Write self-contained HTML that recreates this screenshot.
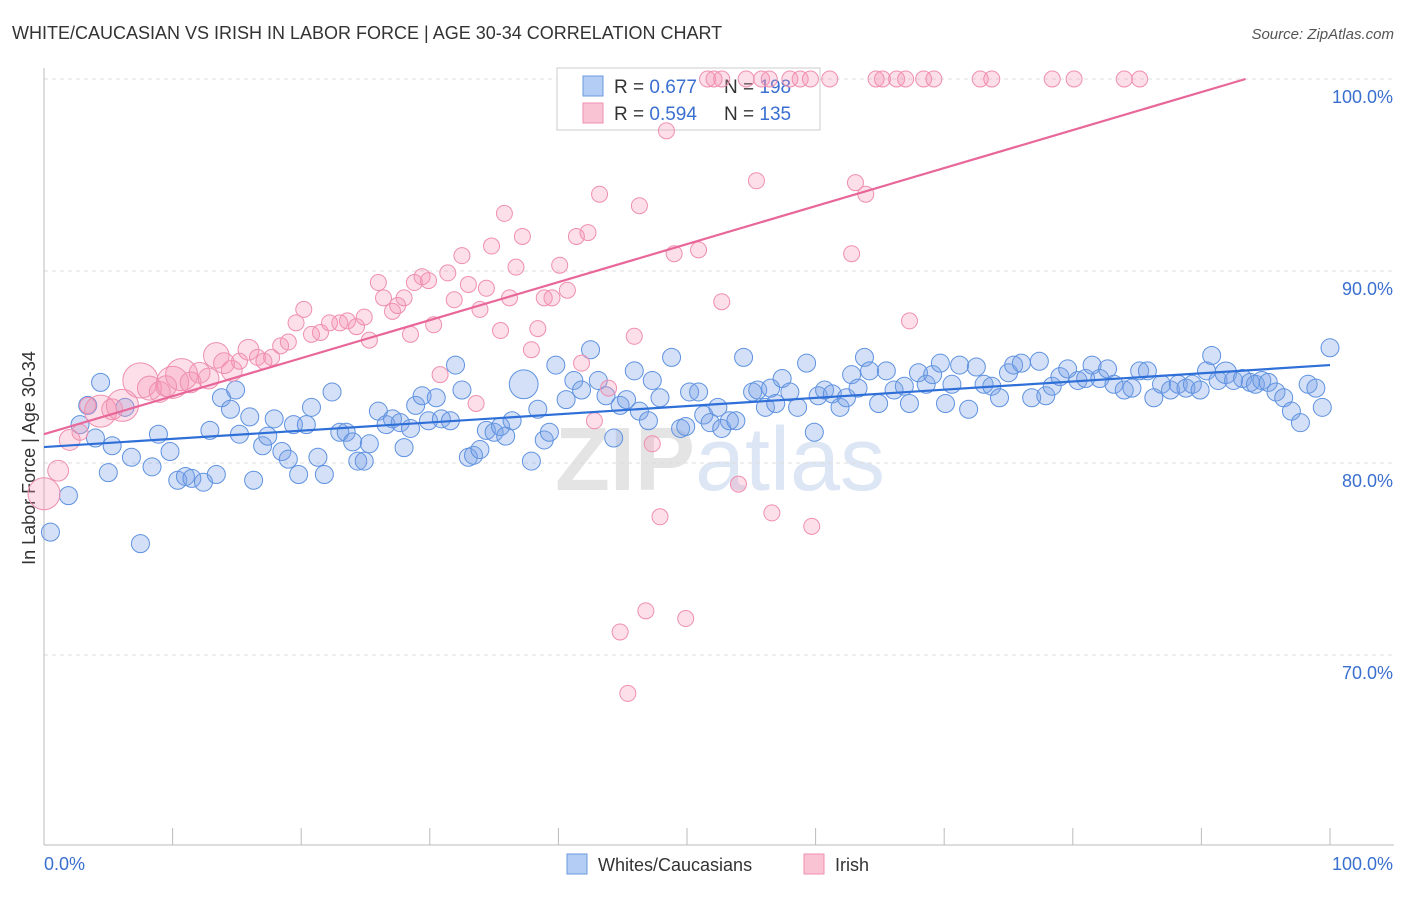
<!DOCTYPE html>
<html><head><meta charset="utf-8"><style>
body{margin:0;background:#fff;font-family:"Liberation Sans",sans-serif;}
svg text{font-family:"Liberation Sans",sans-serif;}
</style></head><body>
<svg id="chart" width="1406" height="892">
<text x="12" y="39" font-size="18" fill="#333">WHITE/CAUCASIAN VS IRISH IN LABOR FORCE | AGE 30-34 CORRELATION CHART</text>
<text x="1394" y="39" font-size="15" fill="#555" font-style="italic" text-anchor="end">Source: ZipAtlas.com</text>
<text x="35" y="458" font-size="18" fill="#333" text-anchor="middle" transform="rotate(-90 35 458)">In Labor Force | Age 30-34</text>
<text x="720" y="490" font-size="90" fill="#e4e4e4" text-anchor="middle" font-weight="bold" font-family="Liberation Serif">ZIP<tspan fill="#dce6f4" font-family="Liberation Sans" font-weight="normal">atlas</tspan></text>
<g id="grid"></g>
<g>
<rect x="557" y="68" width="263" height="62" fill="#fff" stroke="#ccc"/>
<rect x="583" y="76" width="20" height="20" fill="#b3cdf4" stroke="#6a9ae0"/>
<rect x="583" y="103" width="20" height="20" fill="#f9c3d4" stroke="#ef8fb0"/>
<text x="614" y="93" font-size="19" fill="#333">R = <tspan fill="#3a6fd0">0.677</tspan></text>
<text x="724" y="93" font-size="19" fill="#333">N = <tspan fill="#3a6fd0">198</tspan></text>
<text x="614" y="120" font-size="19" fill="#333">R = <tspan fill="#3a6fd0">0.594</tspan></text>
<text x="724" y="120" font-size="19" fill="#333">N = <tspan fill="#3a6fd0">135</tspan></text>
</g>
<g id="pts"></g><g id="trend"></g>
<g>
<rect x="567" y="854" width="20" height="20" fill="#b3cdf4" stroke="#6a9ae0"/>
<text x="598" y="871" font-size="18" fill="#333">Whites/Caucasians</text>
<rect x="804" y="854" width="20" height="20" fill="#f9c3d4" stroke="#ef8fb0"/>
<text x="835" y="871" font-size="18" fill="#333">Irish</text>
</g>
</svg>
<script>
const xTicks=[0,10,20,30,40,50,60,70,80,90,100];
const yTicks=[70,80,90,100];
const blueX=[0.5,1.9,4.4,2.8,3.4,4.0,5.0,5.3,6.3,7.5,6.8,8.4,8.9,9.8,10.4,11.0,11.5,12.4,12.9,13.4,13.8,14.5,14.9,15.2,16.0,16.3,17.0,17.4,17.9,18.5,19.0,19.8,19.4,20.4,20.8,21.3,21.8,22.4,23.0,23.5,24.0,24.4,24.9,25.3,26.0,26.6,27.1,27.7,28.0,28.5,28.9,29.4,29.9,30.5,30.9,31.6,32.0,32.5,33.0,33.4,33.9,34.4,35.0,35.5,35.9,36.4,37.3,37.9,38.4,38.9,39.3,39.8,40.6,41.2,41.8,42.5,43.1,43.7,44.3,44.8,45.3,45.9,46.3,47.0,47.3,47.9,48.8,49.5,49.9,50.2,50.9,51.3,51.8,52.4,52.7,53.3,53.8,54.4,55.1,55.5,56.1,56.5,56.9,57.4,58.0,58.6,59.3,59.9,60.2,60.7,61.3,61.9,62.4,62.8,63.3,63.8,64.2,64.9,65.5,66.1,66.9,67.3,68.0,68.6,69.1,69.7,70.1,70.6,71.2,71.9,72.5,73.1,73.7,74.3,75.0,75.4,76.0,76.8,77.4,77.9,78.4,79.0,79.6,80.4,81.0,81.5,82.1,82.7,83.2,84.0,84.6,85.2,85.8,86.3,86.9,87.6,88.2,88.8,89.3,89.9,90.4,90.8,91.3,91.9,92.5,93.2,93.8,94.2,94.7,95.2,95.8,96.4,97.0,97.7,98.3,98.9,99.4,100];
const blueY=[76.4,78.3,84.2,82.0,83.0,81.3,79.5,80.9,82.9,75.8,80.3,79.8,81.5,80.6,79.1,79.3,79.2,79.0,81.7,79.4,83.4,82.8,83.8,81.5,82.4,79.1,80.9,81.4,82.3,80.6,80.2,79.4,82.0,82.0,82.9,80.3,79.4,83.7,81.6,81.6,81.1,80.1,80.1,81.0,82.7,82.0,82.3,82.1,80.8,81.8,83.0,83.5,82.2,83.4,82.3,82.2,85.1,83.8,80.3,80.4,80.7,81.7,81.6,81.9,81.4,82.2,84.1,80.1,82.8,81.2,81.6,85.1,83.3,84.3,83.8,85.9,84.3,83.5,81.3,83.0,83.3,84.8,82.7,82.2,84.3,83.4,85.5,81.8,81.9,83.7,83.7,82.5,82.1,82.9,81.8,82.2,82.2,85.5,83.7,83.8,82.9,83.9,83.1,84.4,83.7,82.9,85.2,81.6,83.5,83.8,83.6,82.9,83.4,84.6,83.9,85.5,84.8,83.1,84.8,83.8,84.0,83.1,84.7,84.1,84.6,85.2,83.1,84.1,85.1,82.8,85.0,84.1,84.0,83.4,84.7,85.1,85.2,83.4,85.3,83.5,84.0,84.5,84.9,84.3,84.4,85.1,84.4,84.9,84.1,83.8,83.9,84.8,84.8,83.4,84.1,83.8,84.1,83.9,84.1,83.8,84.8,85.6,84.3,84.7,84.3,84.4,84.2,84.1,84.3,84.2,83.7,83.4,82.7,82.1,84.1,83.9,82.9,86.0];
const blueW=[1,1,1,1,1,1,1,1,1,1,1,1,1,1,1,1,1,1,1,1,1,1,1,1,1,1,1,1,1,1,1,1,1,1,1,1,1,1,1,1,1,1,1,1,1,1,1,1,1,1,1,1,1,1,1,1,1,1,1,1,1,1,1,1,1,1,1.6,1,1,1,1,1,1,1,1,1,1,1,1,1,1,1,1,1,1,1,1,1,1,1,1,1,1,1,1,1,1,1,1,1,1,1,1,1,1,1,1,1,1,1,1,1,1,1,1,1,1,1,1,1,1,1,1,1,1,1,1,1,1,1,1,1,1,1,1,1,1,1,1,1,1,1,1,1,1,1,1,1,1,1,1,1,1,1,1,1,1,1,1,1,1,1,1,1.2,1,1,1,1,1,1,1,1,1,1,1,1,1,1,1,1];
const pinkX=[0,1.1,2.0,2.8,3.4,4.4,5.3,6.1,7.5,8.2,9.0,9.5,10.0,10.7,11.4,12.1,12.8,13.4,14.0,14.6,15.2,15.9,16.6,17.1,17.7,18.4,19.0,19.6,20.2,20.8,21.5,22.2,23.0,23.6,24.3,24.9,25.3,26.0,26.4,27.1,27.5,28.0,28.5,28.8,29.4,29.9,30.3,30.8,31.4,31.9,32.5,33.0,33.6,33.9,34.4,34.8,35.5,35.8,36.2,36.7,37.2,37.9,38.4,38.9,39.5,40.1,40.7,41.4,41.8,42.3,42.8,43.2,43.9,44.8,45.4,45.9,46.3,46.8,47.3,47.9,48.4,49.0,49.9,50.9,51.6,52.7,54.0,55.4,56.6,58.0,59.7,61.1,62.8,63.1,63.9,64.7,65.2,66.3,67.0,67.3,68.4,69.2,72.8,73.7,78.4,80.1,84.0,85.2,52.1,52.7,54.6,55.8,56.4,58.8,59.6];
const pinkY=[78.4,79.6,81.2,81.6,83.0,82.7,82.8,83.0,84.3,83.9,83.7,84.0,84.2,84.6,84.2,84.7,84.4,85.6,85.2,84.8,85.3,85.9,85.5,85.3,85.5,86.1,86.3,87.3,88.0,86.7,86.8,87.3,87.3,87.4,87.1,87.6,86.4,89.4,88.6,87.9,88.2,88.6,86.7,89.4,89.7,89.5,87.2,84.6,89.9,88.5,90.8,89.3,83.1,88.0,89.1,91.3,86.9,93.0,88.6,90.2,91.8,85.9,87.0,88.6,88.6,90.3,89.0,91.8,85.2,92.0,82.2,94.0,83.9,71.2,68.0,86.6,93.4,72.3,81.0,77.2,97.3,90.9,71.9,91.1,100,88.4,78.9,94.7,77.4,100,76.7,100,90.9,94.6,94.0,100,100,100,100,87.4,100,100,100,100,100,100,100,100,100,100,100,100,100,100,100];
const pinkW=[2,1.3,1.3,1,1,2,1.3,2,2.2,1.5,1.3,1.3,2,2,1.3,1.3,1.3,1.6,1.3,1.3,1,1.3,1,1,1,1,1,1,1,1,1,1,1,1,1,1,1,1,1,1,1,1,1,1,1,1,1,1,1,1,1,1,1,1,1,1,1,1,1,1,1,1,1,1,1,1,1,1,1,1,1,1,1,1,1,1,1,1,1,1,1,1,1,1,1,1,1,1,1,1,1,1,1,1,1,1,1,1,1,1,1,1,1,1,1,1,1,1,1,1,1,1,1,1,1];
const blueTrend=[80.83,85.1];
const pinkTrend=[81.5,101.3];
const X0=44,X1=1330,Y100=79,PPU=19.2;
const sx=v=>X0+(X1-X0)*v/100;
const sy=v=>Y100+(100-v)*PPU;
const NS="http://www.w3.org/2000/svg";
function mk(t,a,p){const e=document.createElementNS(NS,t);for(const k in a)e.setAttribute(k,a[k]);p.appendChild(e);return e;}
const grid=document.getElementById('grid');
yTicks.forEach(t=>{
 const l=mk('line',{x1:44,x2:1394,y1:sy(t),y2:sy(t),stroke:'#ddd','stroke-dasharray':'4,4'},grid);
 
 
 const tx=mk('text',{x:1393,y:sy(t)+24,'font-size':18,fill:'#3a6fd0','text-anchor':'end'},grid);
 tx.textContent=t.toFixed(1)+'%';
 
 
});
const ax=mk('line',{x1:44,x2:1394,y1:845,y2:845,stroke:'#bbb'},grid);


const ay=mk('line',{x1:44,x2:44,y1:68,y2:845,stroke:'#bbb'},grid);


xTicks.forEach(t=>{
 const l=mk('line',{x1:sx(t),x2:sx(t),y1:845,y2:828,stroke:'#bbb'},grid);
 
 
});
[[0,'start',44],[100,'end',1393]].forEach(([v,a,x])=>{
 const tx=mk('text',{x:x,y:870,'font-size':18,fill:'#3a6fd0','text-anchor':a},grid);
 tx.textContent=v.toFixed(1)+'%';
 
 
});
const pts=document.getElementById('pts');
blueX.forEach((x,i)=>{
 if(blueY[i]===undefined)return;
 const c=mk('circle',{cx:sx(x),cy:sy(blueY[i]),r:9*(blueW[i]||1),fill:'rgba(120,160,232,0.33)',stroke:'#5f92e0','stroke-width':1},pts);
 
 
});
pinkX.forEach((x,i)=>{
 if(pinkY[i]===undefined)return;
 const c=mk('circle',{cx:sx(x),cy:sy(pinkY[i]),r:8*(pinkW[i]||1),fill:'rgba(245,150,180,0.3)',stroke:'#ef8fb0','stroke-width':1},pts);
 
 
});
const tr=document.getElementById('trend');
const bl=mk('line',{x1:sx(0),y1:sy(blueTrend[0]),x2:sx(100),y2:sy(blueTrend[1]),stroke:'#2f6fd8','stroke-width':2.2},tr);


const xe=(100-pinkTrend[0])/(pinkTrend[1]-pinkTrend[0])*100;
const pl=mk('line',{x1:sx(0),y1:sy(pinkTrend[0]),x2:sx(xe),y2:sy(100),stroke:'#e8679a','stroke-width':2.2},tr);


</script>
</body></html>
